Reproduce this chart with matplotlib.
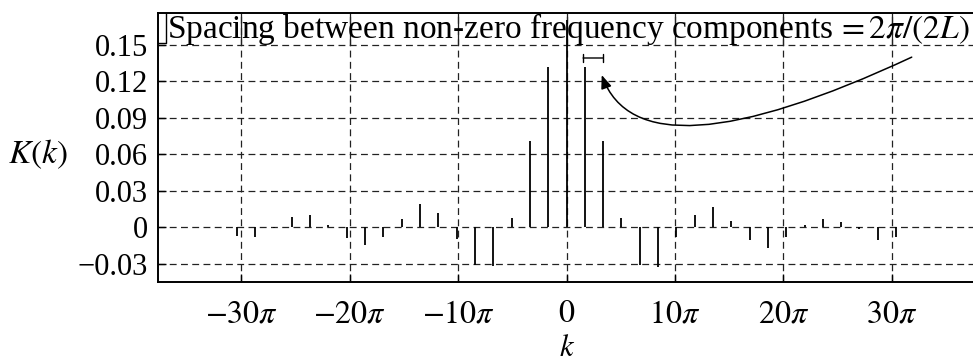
import numpy as np
import matplotlib
matplotlib.use('Agg')
import matplotlib.pyplot as plt

plt.rcParams['font.family'] = ['Liberation Serif', 'DejaVu Serif']
plt.rcParams['mathtext.fontset'] = 'stix'

# шаг между ненулевыми частотными компонентами, в единицах pi
spacing = 1.69

# номера компонент и значения K(k)
indices = list(range(-18, 19))
values = [
    -0.007, -0.008, -0.001, 0.008, 0.0098, 0.002, -0.009, -0.015, -0.008,
    0.007, 0.019, 0.0115, -0.010, -0.031, -0.032, 0.0074, 0.0707, 0.1315,
    0.17,
    0.1315, 0.0707, 0.0074, -0.031, -0.033, -0.008, 0.0099, 0.0164, 0.005,
    -0.0107, -0.017, -0.008, 0.002, 0.007, 0.004, -0.002, -0.011, -0.0085,
]

x_ticks = [-30, -20, -10, 0, 10, 20, 30]
x_tick_labels = [r'$-30\pi$', r'$-20\pi$', r'$-10\pi$', r'$0$',
                 r'$10\pi$', r'$20\pi$', r'$30\pi$']
y_ticks = [-0.03, 0, 0.03, 0.06, 0.09, 0.12, 0.15]
y_tick_labels = ['\u22120.03', '0', '0.03', '0.06', '0.09', '0.12', '0.15']

note = r'Spacing between non-zero frequency components$\,=2\pi/(2L)$'


def build_graphic(output_file):
    fig = plt.figure(figsize=(9.73, 3.62), dpi=100)
    ax = fig.add_axes([158 / 973, 80 / 362, 817 / 973, 269 / 362])

    k = np.array(indices) * spacing * np.pi
    ax.vlines(k, 0, values, color='black', linewidth=1.3, zorder=3)

    ax.set_xlim(-37.7 * np.pi, 37.7 * np.pi)
    ax.set_ylim(-0.0452, 0.176)

    ax.set_xticks([t * np.pi for t in x_ticks])
    ax.set_xticklabels(x_tick_labels, fontsize=23)
    ax.set_yticks(y_ticks)
    ax.set_yticklabels(y_tick_labels, fontsize=22)
    ax.tick_params(axis='x', direction='in', length=6, width=1, pad=13)
    ax.tick_params(axis='y', direction='in', length=6, width=1, pad=7)

    ax.grid(True, color='#222222', linewidth=0.9, linestyle=(0, (5.5, 3.5)))
    for spine in ax.spines.values():
        spine.set_linewidth(1.4)

    # сплошные вертикальные линии сетки в области подписи
    ax.vlines([t * np.pi for t in x_ticks], 0.15, 0.176, color='#222222',
              linewidth=0.9, zorder=2)

    # подпись сверху и уголок рамки слева от неё
    ax.text(0.011, 0.94, note, transform=ax.transAxes, fontsize=24,
            ha='left', va='center')
    ax.plot([0, 0.0098, 0.0098], [0.888, 0.888, 1.0], color='black',
            linewidth=1, transform=ax.transAxes, clip_on=False)

    # отрезок между соседними компонентами и стрелка к нему
    ax.annotate('', xy=(k[20], 0.139), xytext=(k[19] - 0.5, 0.139),
                arrowprops=dict(arrowstyle='|-|, widthA=0.3, widthB=0.3',
                                color='black', linewidth=1,
                                shrinkA=0, shrinkB=0))
    ax.annotate('', xy=(3.25 * np.pi, 0.125), xytext=(31.86 * np.pi, 0.1397),
                arrowprops=dict(arrowstyle='-|>, head_length=0.5, head_width=0.2',
                                color='black', linewidth=1.1,
                                connectionstyle='angle3,angleA=25,angleB=110',
                                mutation_scale=16, shrinkA=0, shrinkB=0))

    fig.text(38 / 973, 1 - 154 / 362, r'$K(k)$', fontsize=24,
             ha='center', va='center')
    fig.text(567 / 973, 1 - 349 / 362, r'$k$', fontsize=22,
             ha='center', va='center')

    plt.savefig(output_file, dpi=100)
    return fig


def main():
    build_graphic('out.png')


if __name__ == "__main__":
    main()
